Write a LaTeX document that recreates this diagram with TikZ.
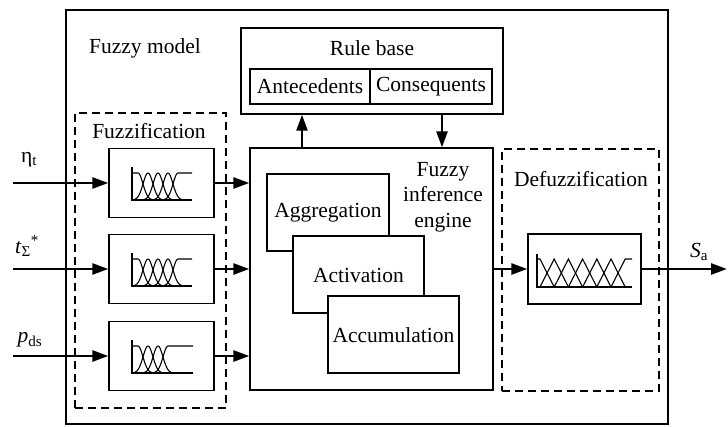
\documentclass[tikz,border=0pt]{standalone}
\usepackage{fontspec}
\setmainfont{Liberation Serif}
\usetikzlibrary{arrows.meta}
\newcommand\fzglyph[4]{% #1 x0, #2 baseline y, #3 bells, #4 right end x
  \draw[glyph] ({#1},{#2-33}) -- ({#1},{#2}) -- ({#4},{#2});
  \draw[glyph] ({#1},{#2-27}) -- ({#1+6},{#2-27}) -- plot[domain={#1+6}:{#1+24},samples=30] (\x,{#2-27*exp(-((\x-#1-6)^2)/48)});
  \foreach \k in {1,...,#3}{
    \pgfmathsetmacro\gcx{#1+6+10*\k}
    \draw[glyph] plot[domain={\gcx-17}:{\gcx+17},samples=40] (\x,{#2-27*exp(-((\x-\gcx)^2)/48)});
  }
  \pgfmathsetmacro\grx{#1+6+10*(#3+1)}
  \draw[glyph] plot[domain={\grx-18}:{\grx},samples=30] (\x,{#2-27*exp(-((\x-\grx)^2)/48)}) -- ({#4},{#2-27});
}
\begin{document}
\begin{tikzpicture}[x=1pt,y=-1pt,
  every node/.style={font=\fontsize{21.5}{25.5}\selectfont, inner sep=0pt},
  box/.style={draw, line width=1.3pt, fill=white},
  dbox/.style={draw, line width=1.3pt, dash pattern=on 8pt off 5pt},
  outerbox/.style={draw, line width=2.4pt},
  arr/.style={line width=2.6pt, -{Triangle[length=16pt,width=11pt]}},
  glyph/.style={line width=1.1pt}]
\useasboundingbox (0,0) rectangle (728,426);
% outer model box
\node[outerbox, minimum width=602pt, minimum height=414pt] (model) at (367,217) {};
\node (modellbl) at (145,48) {Fuzzy model};
% rule base
\node[box, minimum width=262pt, minimum height=86pt] (rb) at (372,71) {};
\node (rblbl) at (372,48) {Rule base};
\node[box, minimum width=120pt, minimum height=35pt] (ante) at (310,86.5) {Antecedents};
\node[box, minimum width=122pt, minimum height=35pt] (cons) at (431,86.5) {Consequents};
% fuzzification
\node[dbox, minimum width=151pt, minimum height=295pt] (fuzz) at (150.5,260.5) {};
\node (fuzzlbl) at (149,131) {Fuzzification};
\node[box, minimum width=105pt, minimum height=69pt] (fz1) at (161.5,183) {};
\node[box, minimum width=105pt, minimum height=69pt] (fz2) at (161.5,269) {};
\node[box, minimum width=105pt, minimum height=69pt] (fz3) at (161.5,356) {};
\fzglyph{132}{200}{3}{192}
\fzglyph{132}{286}{3}{192}
\fzglyph{132}{373}{2}{193}
% inference engine
\node[box, minimum width=243pt, minimum height=242pt] (engine) at (371.5,269) {};
\node[align=center] (englbl) at (443,197) {Fuzzy\\inference\\engine};
\node[box, minimum width=122pt, minimum height=77pt] (aggr) at (328,212.5) {};
\node (aggrlbl) at (328,213) {Aggregation};
\node[box, minimum width=131pt, minimum height=77pt] (actv) at (358.5,274.5) {};
\node (actvlbl) at (358.5,275) {Activation};
\node[box, minimum width=131pt, minimum height=77pt] (accu) at (393.5,334.5) {};
\node (acculbl) at (393.5,335) {Accumulation};
% defuzzification
\node[dbox, minimum width=157pt, minimum height=242pt] (defz) at (580.5,270) {};
\node (defzlbl) at (581,179) {Defuzzification};
\node[box, minimum width=113pt, minimum height=70pt] (dfb) at (584.5,269) {};
\draw[glyph] (537,254) -- (537,287) -- (632,287);
\draw[glyph] (537,259) -- (540,259) -- (554.2,287);
\foreach \k in {1,...,5}{
  \pgfmathsetmacro\tcx{540+14.2*\k}
  \draw[glyph] ({\tcx-14.2},287) -- (\tcx,259) -- ({\tcx+14.2},287);
}
\draw[glyph] (611,287) -- (625.2,259) -- (632,259);
% inputs
\node (eta) at (29,160) {η\textsubscript{t}};
\node (tsig) at (27,246) {\textit{t}\textsubscript{Σ}\textsuperscript{*}};
\node (pds) at (30,340) {\textit{p}\textsubscript{ds}};
\coordinate (in1) at (13,183);
\coordinate (in2) at (13,269);
\coordinate (in3) at (13,356);
\draw[arr] (in1) -- (fz1.west);
\draw[arr] (in2) -- (fz2.west);
\draw[arr] (in3) -- (fz3.west);
\draw[arr] (fz1.east) -- (fz1.east -| engine.west);
\draw[arr] (fz2.east) -- (fz2.east -| engine.west);
\draw[arr] (fz3.east) -- (fz3.east -| engine.west);
% rule base links
\coordinate (ua) at (302,148);
\coordinate (da) at (442,114);
\draw[arr] (ua) -- (ua |- rb.south);
\draw[arr] (da) -- (da |- engine.north);
% output
\draw[arr] (engine.east) -- (dfb.west);
\coordinate (out) at (727,269);
\draw[arr] (dfb.east) -- (out);
\node (sa) at (699,252) {\textit{S}\textsubscript{a}};
\end{tikzpicture}
\end{document}
